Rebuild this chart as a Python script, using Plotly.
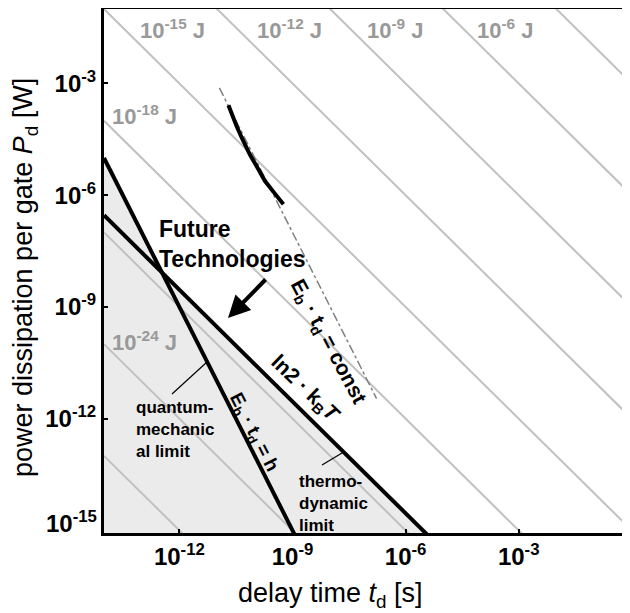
import plotly.graph_objects as go
import numpy as np

# ---------------- data ----------------
energy_exps = [-27, -24, -21, -18, -15, -12, -9, -6, -3]      # constant-energy lines, J
t_span = [1e-14, 1.0]

energy_label_exps = [-15, -12, -9, -6, -18, -24]

quantum_t = [1e-14, 1.3e-9]          # E_b * t_d = h
quantum_P = [1e-5, 5.9e-16]
thermo_t = [1e-14, 4e-6]             # ln2 * kB * T
thermo_P = [2.9e-7, 7.2e-16]
const_t = [1.15e-11, 1.7e-7]         # E_b * t_d = const (dash-dot)
const_P = [7.6e-4, 3.46e-12]
cmos_t = [2.0e-11, 2.45e-11, 3.3e-11, 4.5e-11, 5.5e-11, 7.4e-11, 1.12e-10, 1.86e-10, 3.5e-10, 5.75e-10]
cmos_P = [2.6e-4, 1.45e-4, 7.1e-5, 3.5e-5, 2.3e-5, 1.23e-5, 6.0e-6, 2.4e-6, 1.07e-6, 5.75e-7]

x_tick_vals = [1e-12, 1e-9, 1e-6, 1e-3]
x_tick_text = ["10<sup>-12</sup>", "10<sup>-9</sup>", "10<sup>-6</sup>", "10<sup>-3</sup>"]
y_tick_vals = [1e-12, 1e-9, 1e-6, 1e-3]
y_tick_text = ["10<sup>-12</sup>", "10<sup>-9</sup>", "10<sup>-6</sup>", "10<sup>-3</sup>"]
y_bottom_label = "10<sup>-15</sup>"   # sits on the bottom axis line

# ---------------- layout geometry ----------------
# page body has an 8px margin: screen = figure + 8
OFF = 8
W, H = 630 - OFF, 613 - OFF
S_LEFT, S_TOP, S_RIGHT, S_BOTTOM = 104, 9, 630, 533     # plot area on screen
ML, MT = S_LEFT - OFF, S_TOP - OFF
MR = W - (S_RIGHT - OFF)
MB = H - (S_BOTTOM - OFF)
X_RANGE = [-14, -0.048]
Y_RANGE = [-15.07, -1]
PW, PH = S_RIGHT - S_LEFT, S_BOTTOM - S_TOP

def px2x(px):
    return X_RANGE[0] + (px - S_LEFT) / PW * (X_RANGE[1] - X_RANGE[0])

def py2y(py):
    return Y_RANGE[1] - (py - S_TOP) / PH * (Y_RANGE[1] - Y_RANGE[0])

def px2paper(px):
    return (px - S_LEFT) / PW

def py2paper(py):
    return 1 - (py - S_TOP) / PH

FONT = "Arial, Liberation Sans, sans-serif"
GREY_LINE = "#c0c0c0"
GREY_TEXT = "#999999"
FILL = "#ebebeb"

fig = go.Figure()

# forbidden region (union of area below both limits)
BOTTOM = 1e-16
fig.add_trace(go.Scatter(
    x=[quantum_t[0], quantum_t[0], quantum_t[1], quantum_t[1]],
    y=[BOTTOM, quantum_P[0], quantum_P[1], BOTTOM],
    fill="toself", fillcolor=FILL, line=dict(width=0), mode="lines",
    hoverinfo="skip", showlegend=False))
fig.add_trace(go.Scatter(
    x=[thermo_t[0], thermo_t[0], thermo_t[1], thermo_t[1]],
    y=[BOTTOM, thermo_P[0], thermo_P[1], BOTTOM],
    fill="toself", fillcolor=FILL, line=dict(width=0), mode="lines",
    hoverinfo="skip", showlegend=False))

# constant-energy lines
for e in energy_exps:
    E = 10.0 ** e
    fig.add_trace(go.Scatter(
        x=t_span, y=[E / t for t in t_span], mode="lines",
        line=dict(color=GREY_LINE, width=2), hoverinfo="skip", showlegend=False))

# E_b * t_d = const (dash-dot)
fig.add_trace(go.Scatter(x=const_t, y=const_P, mode="lines",
                         line=dict(color="#808080", width=1.5, dash="dashdot"),
                         showlegend=False))
# technology trend curve
fig.add_trace(go.Scatter(x=cmos_t, y=cmos_P, mode="lines",
                         line=dict(color="black", width=4), showlegend=False))
# limits
fig.add_trace(go.Scatter(x=quantum_t, y=quantum_P, mode="lines",
                         line=dict(color="black", width=4), showlegend=False))
fig.add_trace(go.Scatter(x=thermo_t, y=thermo_P, mode="lines",
                         line=dict(color="black", width=4), showlegend=False))

# leader lines
fig.add_trace(go.Scatter(x=[10 ** px2x(172), 10 ** px2x(207)],
                         y=[10 ** py2y(394), 10 ** py2y(362)], mode="lines",
                         line=dict(color="black", width=1.2), showlegend=False))
fig.add_trace(go.Scatter(x=[10 ** px2x(322), 10 ** px2x(342)],
                         y=[10 ** py2y(465), 10 ** py2y(453)], mode="lines",
                         line=dict(color="black", width=1.2), showlegend=False))

ann = []

# energy labels
label_pos = {-15: (172, 29), -12: (289, 29), -9: (395, 29), -6: (505, 29),
             -18: (144, 115), -24: (144, 341)}
for e in energy_label_exps:
    px, py = label_pos[e]
    ann.append(dict(x=px2x(px), y=py2y(py), xref="x", yref="y", showarrow=False,
                    xanchor="center", yanchor="middle",
                    text="10<sup>%d</sup> J" % e,
                    font=dict(family=FONT, size=22, color=GREY_TEXT, weight="bold")))

# bottom y tick label (drawn just above the axis line, as in the original)
ann.append(dict(x=px2paper(99), y=py2paper(539), xref="paper", yref="paper", showarrow=False,
                xanchor="right", yanchor="bottom", text=y_bottom_label,
                font=dict(family=FONT, size=24, color="black", weight="bold")))

# Future Technologies
ann.append(dict(x=px2x(157), y=py2y(244), xref="x", yref="y", showarrow=False,
                xanchor="left", yanchor="middle", align="left", text="Future<br>Technologies",
                font=dict(family=FONT, size=23, color="black", weight="bold")))
# arrow
ann.append(dict(x=px2x(228), y=py2y(318), xref="x", yref="y", ax=39, ay=-40,
                showarrow=True, arrowhead=2, arrowsize=1.1, arrowwidth=4,
                arrowcolor="black", text=""))

# rotated line labels
ann.append(dict(x=px2x(328), y=py2y(342), xref="x", yref="y", showarrow=False,
                textangle=62, text="E<sub>b</sub> · t<sub>d</sub> = const",
                font=dict(family=FONT, size=21, color="black", weight="bold")))
ann.append(dict(x=px2x(305), y=py2y(389), xref="x", yref="y", showarrow=False,
                textangle=44, text="ln2 · k<sub>B</sub><i>T</i>",
                font=dict(family=FONT, size=21, color="black", weight="bold")))
ann.append(dict(x=px2x(253), y=py2y(432), xref="x", yref="y", showarrow=False,
                textangle=63, text="E<sub>b</sub> · t<sub>d</sub> = h",
                font=dict(family=FONT, size=19, color="black", weight="bold")))

# limit labels
ann.append(dict(x=px2x(134), y=py2y(429), xref="x", yref="y", showarrow=False,
                xanchor="left", yanchor="middle", align="left",
                text="quantum-<br>mechanic<br>al limit",
                font=dict(family=FONT, size=17, color="black", weight="bold")))
ann.append(dict(x=px2x(297), y=py2y(503), xref="x", yref="y", showarrow=False,
                xanchor="left", yanchor="middle", align="left",
                text="thermo-<br>dynamic<br>limit",
                font=dict(family=FONT, size=17, color="black", weight="bold")))

# axis titles
ann.append(dict(x=px2paper(330), y=py2paper(595), xref="paper", yref="paper", showarrow=False,
                xanchor="center", yanchor="middle",
                text="delay time <i>t</i><sub>d</sub> [s]",
                font=dict(family=FONT, size=27, color="black")))
ann.append(dict(x=px2paper(25), y=py2paper(278), xref="paper", yref="paper", showarrow=False,
                xanchor="center", yanchor="middle",
                textangle=-90, text="power dissipation per gate <i>P</i><sub>d</sub> [W]",
                font=dict(family=FONT, size=27, color="black")))

fig.update_layout(
    width=W, height=H,
    margin=dict(l=ML, r=MR, t=MT, b=MB, pad=0, autoexpand=False),
    paper_bgcolor="white", plot_bgcolor="white",
    showlegend=False,
    annotations=ann,
    xaxis=dict(type="log", range=X_RANGE, showgrid=False, zeroline=False, automargin=False,
               showline=True, linecolor="black", linewidth=3, mirror=True,
               ticks="inside", ticklen=4, tickwidth=2, tickcolor="black",
               tickvals=x_tick_vals, ticktext=x_tick_text,
               tickfont=dict(family=FONT, size=24, color="black", weight="bold")),
    yaxis=dict(type="log", range=Y_RANGE, showgrid=False, zeroline=False, automargin=False,
               showline=True, linecolor="black", linewidth=3, mirror=False,
               ticks="inside", ticklen=4, tickwidth=2, tickcolor="black",
               tickvals=y_tick_vals, ticktext=y_tick_text,
               tickfont=dict(family=FONT, size=24, color="black", weight="bold")),
)

fig.write_html("out.html")
